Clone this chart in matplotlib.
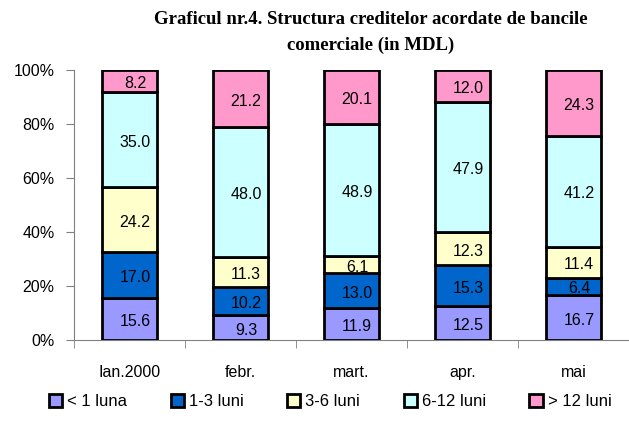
import numpy as np
import matplotlib
matplotlib.use("Agg")
import matplotlib.pyplot as plt

plt.rcParams['font.family'] = ['Liberation Sans', 'DejaVu Sans']

# data
months = ['Ian.2000', 'febr.', 'mart.', 'apr.', 'mai']
series_names = ['< 1 luna', '1-3 luni', '3-6 luni', '6-12 luni', '> 12 luni']
lt1 = [15.6, 9.3, 11.9, 12.5, 16.7]
m1_3 = [17.0, 10.2, 13.0, 15.3, 6.4]
m3_6 = [24.2, 11.3, 6.1, 12.3, 11.4]
m6_12 = [35.0, 48.0, 48.9, 47.9, 41.2]
gt12 = [8.2, 21.2, 20.1, 12.0, 24.3]
colors = ['#9999FF', '#0066CC', '#FFFFCC', '#CCFFFF', '#FF99CC']

series = [lt1, m1_3, m3_6, m6_12, gt12]

fig = plt.figure(figsize=(6.29, 4.22), dpi=100)
ax = fig.add_axes([74/629, 82/422, 555/629, 270/422])

x = np.arange(len(months))
bottom = np.zeros(len(months))
for vals, name, c in zip(series, series_names, colors):
    vals = np.array(vals)
    ax.bar(x, vals, 0.5, bottom=bottom, color=c, edgecolor='black', linewidth=2, label=name, zorder=3)
    for xi, b, v in zip(x, bottom, vals):
        ax.text(xi + 0.05, b + v / 2 - 1, '%.1f' % v, ha='center', va='center', fontsize=11.5, zorder=4)
    bottom += vals

ax.set_xlim(-0.5, len(months) - 0.5)
ax.set_ylim(0, 100)
ax.set_yticks(np.arange(0, 101, 20))
ax.set_yticklabels(['%d%%' % v for v in range(0, 101, 20)], fontsize=11.5)
ax.set_xticks(x)
ax.set_xticklabels(months, fontsize=11.5)
ax.tick_params(axis='x', length=0, pad=18)
ax.set_xticks(np.arange(-0.5, len(months), 1), minor=True)
ax.tick_params(axis='x', which='minor', length=6, color='#808080')
ax.tick_params(axis='y', length=6, color='#808080', pad=8)
for s in ['top', 'right']:
    ax.spines[s].set_visible(False)
for s in ['left', 'bottom']:
    ax.spines[s].set_color('#808080')

fig.text(0.59, 0.975, 'Graficul nr.4. Structura creditelor acordate de bancile\ncomerciale (in MDL)',
         ha='center', va='top', fontsize=13.5, fontweight='bold', family='Liberation Serif', linespacing=1.7)

fig.legend(loc='lower center', bbox_to_anchor=(0.525, -0.005), ncol=5, frameon=False, fontsize=12,
           handlelength=0.8, handleheight=0.8, handletextpad=0.3, columnspacing=2.6)

fig.savefig('out.png', dpi=100)
